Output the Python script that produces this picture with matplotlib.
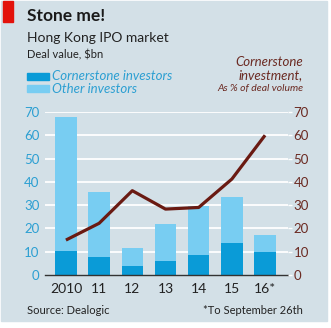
import matplotlib
matplotlib.use("Agg")
import matplotlib.pyplot as plt
from matplotlib.patches import Rectangle

plt.rcParams['font.family'] = ['Lato', 'DejaVu Sans']

years = ["2010", "11", "12", "13", "14", "15", "16*"]
cornerstone = [10.3, 7.7, 4.0, 6.0, 8.4, 13.9, 10.0]
total = [68.0, 35.6, 11.4, 21.7, 29.6, 33.6, 17.0]
other = [t - c for t, c in zip(total, cornerstone)]
cornerstone_pct = [15.0, 22.2, 36.2, 28.3, 29.0, 41.2, 60.0]
yticks = [0, 10, 20, 30, 40, 50, 60, 70]

BG = "#d3e0e7"
DARK = "#0a9bd7"
LIGHT = "#78cdf2"
LINE = "#6a1a12"
BLUE_TXT = "#2c9fd2"
BROWN_TXT = "#6b2a22"

W, H = 331, 328


def fx(px):
    return px / W


def fy(py):
    return 1 - py / H


fig = plt.figure(figsize=(W / 100, H / 100), dpi=100, facecolor="white")
# background panel with a thin white margin
fig.add_artist(Rectangle((fx(1), fy(321)), fx(326), 320 / H,
                         transform=fig.transFigure, color=BG, zorder=-10))

ax = fig.add_axes([0.136, 0.1616, 0.734, 0.497])
ax.set_facecolor(BG)

x = list(range(len(years)))
ax.set_xlim(-0.63, 6.69)
ax.set_ylim(0, 70)
ax.set_yticks(yticks)
for yv in yticks[1:]:
    ax.axhline(yv, color="white", lw=1.3, zorder=0)

ax.bar(x, cornerstone, width=0.65, color=DARK, zorder=2)
ax.bar(x, other, bottom=cornerstone, width=0.65, color=LIGHT, zorder=2)

for s in ["top", "left", "right"]:
    ax.spines[s].set_visible(False)
ax.spines["bottom"].set_color("#333333")
ax.spines["bottom"].set_linewidth(1.0)
ax.tick_params(axis="y", length=0, pad=4, labelsize=9.5, labelcolor=BLUE_TXT)
ax.tick_params(axis="x", length=0, pad=6, labelsize=10, labelcolor="#222222")
ax.set_xticks(x)
ax.set_xticklabels(years)

ax2 = ax.twinx()
ax2.set_ylim(0, 70)
ax2.set_yticks(yticks)
ax2.plot(x, cornerstone_pct, color=LINE, lw=2.3, zorder=3, solid_capstyle="butt")
for s in ["top", "left", "right", "bottom"]:
    ax2.spines[s].set_visible(False)
ax2.tick_params(axis="y", length=3, width=1, color="white", pad=1, labelsize=9.5, labelcolor=BROWN_TXT)

# Header
fig.add_artist(Rectangle((fx(3), fy(22)), fx(10), 21 / H,
                         transform=fig.transFigure, color="#e3120b"))
fig.text(fx(27), fy(16), "Stone me!", fontsize=12.5, fontweight="bold",
         color="#1a1a1a", va="center")
fig.text(fx(27), fy(38), "Hong Kong IPO market", fontsize=10,
         color="#222222", va="center")
fig.text(fx(27), fy(55), "Deal value, $bn", fontsize=8,
         color="#222222", va="center")

# Legend
fig.add_artist(Rectangle((fx(27), fy(80)), fx(22), 7 / H,
                         transform=fig.transFigure, color=DARK))
fig.add_artist(Rectangle((fx(27), fy(92)), fx(22), 7 / H,
                         transform=fig.transFigure, color=LIGHT))
fig.text(fx(52), fy(76), "Cornerstone investors", fontsize=9.5,
         style="italic", color=BLUE_TXT, va="center")
fig.text(fx(52), fy(89), "Other investors", fontsize=9.5,
         style="italic", color=BLUE_TXT, va="center")

fig.text(fx(303), fy(62), "Cornerstone", fontsize=9.5,
         style="italic", color=BROWN_TXT, va="center", ha="right")
fig.text(fx(303), fy(75), "investment,", fontsize=9.5,
         style="italic", color=BROWN_TXT, va="center", ha="right")
fig.text(fx(303), fy(89), "As % of deal volume", fontsize=7.5,
         style="italic", color=BROWN_TXT, va="center", ha="right")

# Footer
fig.text(fx(27), fy(311), "Source: Dealogic", fontsize=8,
         color="#222222", va="center")
fig.text(fx(303), fy(311), "*To September 26th", fontsize=8,
         color="#222222", va="center", ha="right")

fig.savefig("out.png", dpi=100, facecolor="white")
